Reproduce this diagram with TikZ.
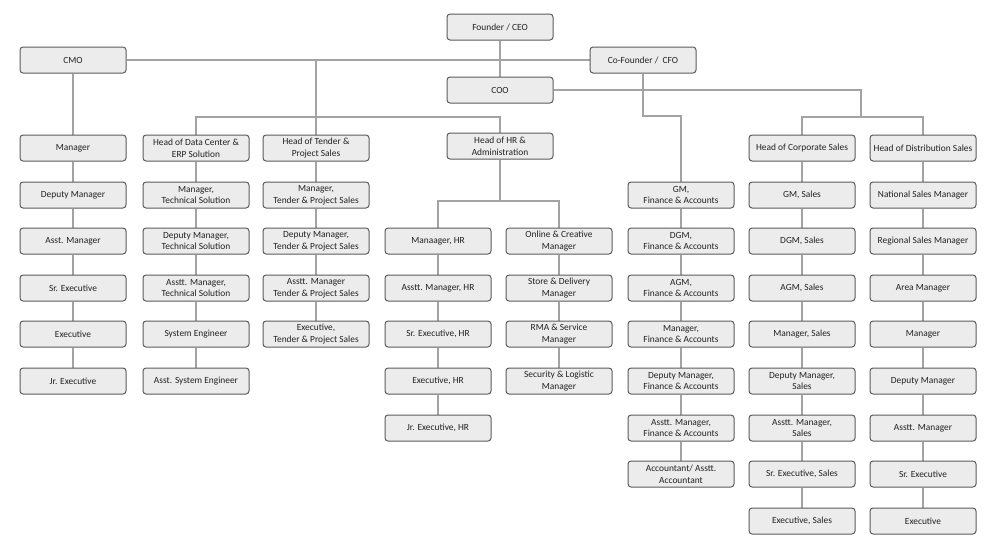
\documentclass[tikz,border=0pt]{standalone}
\usepackage{fontspec}
\setmainfont{Carlito}
\usetikzlibrary{backgrounds}
\definecolor{boxfill}{HTML}{ECECEC}
\definecolor{boxborder}{HTML}{5C5C5C}
\definecolor{linegray}{HTML}{A3A3A3}
\definecolor{txt}{HTML}{222222}
\tikzset{
  box/.style={draw=boxborder, fill=boxfill, line width=1pt, rounded corners=3pt,
    minimum width=106pt, minimum height=26pt, inner sep=1pt, align=center,
    text=txt, font=\fontsize{9.4}{11.6}\selectfont},
  conn/.style={draw=linegray, line width=1.6pt}
}
\begin{document}
\begin{tikzpicture}[x=1pt,y=-1pt]
\useasboundingbox (0,0) rectangle (1000,554);
% top
\node[box] (ceo) at (500,27) {Founder / CEO};
\node[box] (cmo) at (73,60) {CMO};
\node[box] (cfo) at (643,60) {Co-Founder /\ \ CFO};
\node[box] (coo) at (500,90) {COO};
% CMO column
\node[box] (m1) at (73,148) {Manager};
\node[box] (m2) at (73,195) {Deputy Manager};
\node[box] (m3) at (73,241) {Asst. Manager};
\node[box] (m4) at (73,288) {Sr. Executive};
\node[box] (m5) at (73,334) {Executive};
\node[box] (m6) at (73,381) {Jr. Executive};
% Data center column
\node[box] (d1) at (196,148) {Head of Data Center \&\\ERP Solution};
\node[box] (d2) at (196,195) {Manager,\\Technical Solution};
\node[box] (d3) at (196,241) {Deputy Manager,\\Technical Solution};
\node[box] (d4) at (196,288) {Asstt. Manager,\\Technical Solution};
\node[box] (d5) at (196,334) {System Engineer};
\node[box] (d6) at (196,381) {Asst. System Engineer};
% Tender column
\node[box] (t1) at (316,148) {Head of Tender \&\\Project Sales};
\node[box] (t2) at (316,195) {Manager,\\Tender \& Project Sales};
\node[box] (t3) at (316,241) {Deputy Manager,\\Tender \& Project Sales};
\node[box] (t4) at (316,288) {Asstt. Manager\\Tender \& Project Sales};
\node[box] (t5) at (316,334) {Executive,\\Tender \& Project Sales};
% HR
\node[box] (hr) at (500,146) {Head of HR \&\\Administration};
\node[box] (h1) at (438,241) {Manaager, HR};
\node[box] (h2) at (438,288) {Asstt. Manager, HR};
\node[box] (h3) at (438,334) {Sr. Executive, HR};
\node[box] (h4) at (438,381) {Executive, HR};
\node[box] (h5) at (438,428) {Jr. Executive, HR};
\node[box] (o1) at (559,241) {Online \& Creative\\Manager};
\node[box] (o2) at (559,288) {Store \& Delivery\\Manager};
\node[box] (o3) at (559,334) {RMA \& Service\\Manager};
\node[box] (o4) at (559,381) {Security \& Logistic\\Manager};
% Finance
\node[box] (f1) at (681,195) {GM,\\Finance \& Accounts};
\node[box] (f2) at (681,241) {DGM,\\Finance \& Accounts};
\node[box] (f3) at (681,288) {AGM,\\Finance \& Accounts};
\node[box] (f4) at (681,334) {Manager,\\Finance \& Accounts};
\node[box] (f5) at (681,381) {Deputy Manager,\\Finance \& Accounts};
\node[box] (f6) at (681,428) {Asstt. Manager,\\Finance \& Accounts};
\node[box] (f7) at (681,474) {Accountant/ Asstt.\\Accountant};
% Corporate sales
\node[box] (c0) at (802,148) {Head of Corporate Sales};
\node[box] (c1) at (802,195) {GM, Sales};
\node[box] (c2) at (802,241) {DGM, Sales};
\node[box] (c3) at (802,288) {AGM, Sales};
\node[box] (c4) at (802,334) {Manager, Sales};
\node[box] (c5) at (802,381) {Deputy Manager,\\Sales};
\node[box] (c6) at (802,428) {Asstt. Manager,\\Sales};
\node[box] (c7) at (802,474) {Sr. Executive, Sales};
\node[box] (c8) at (802,521) {Executive, Sales};
% Distribution sales
\node[box] (s0) at (923,148) {Head of Distribution Sales};
\node[box] (s1) at (923,195) {National Sales Manager};
\node[box] (s2) at (923,241) {Regional Sales Manager};
\node[box] (s3) at (923,288) {Area Manager};
\node[box] (s4) at (923,334) {Manager};
\node[box] (s5) at (923,381) {Deputy Manager};
\node[box] (s6) at (923,428) {Asstt. Manager};
\node[box] (s7) at (923,474) {Sr. Executive};
\node[box] (s8) at (923,521) {Executive};
% junction coordinates
\coordinate (bar) at (316,117);
\coordinate (sbar) at (861,117);
\coordinate (fbar) at (643,116);
\coordinate (hbar) at (499,201);
\begin{scope}[on background layer]
\draw[conn] (cmo.east) -- (cfo.west);
\draw[conn] (ceo.south) -- (coo.north);
\draw[conn] (t1.north) -- (t1.north |- cmo.east);
\draw[conn] (d1.north) -- (d1.north |- bar) -- (hr.north |- bar) -- (hr.north);
\draw[conn] (coo.east) -| (sbar);
\draw[conn] (c0.north) -- (c0.north |- sbar) -- (s0.north |- sbar) -- (s0.north);
\draw[conn] (cfo.south) -- (fbar) -| (f1.north);
\draw[conn] (hr.south) -- (hr.south |- hbar);
\draw[conn] (h1.north) -- (h1.north |- hbar) -- (o1.north |- hbar) -- (o1.north);
\foreach \a/\b in {cmo/m1,m1/m2,m2/m3,m3/m4,m4/m5,m5/m6,
  d1/d2,d2/d3,d3/d4,d4/d5,d5/d6,
  t1/t2,t2/t3,t3/t4,t4/t5,
  h1/h2,h2/h3,h3/h4,h4/h5,
  o1/o2,o2/o3,o3/o4,
  f1/f2,f2/f3,f3/f4,f4/f5,f5/f6,f6/f7,
  c0/c1,c1/c2,c2/c3,c3/c4,c4/c5,c5/c6,c6/c7,c7/c8,
  s0/s1,s1/s2,s2/s3,s3/s4,s4/s5,s5/s6,s6/s7,s7/s8}
  \draw[conn] (\a.south) -- (\b.north);
\end{scope}
\end{tikzpicture}
\end{document}
